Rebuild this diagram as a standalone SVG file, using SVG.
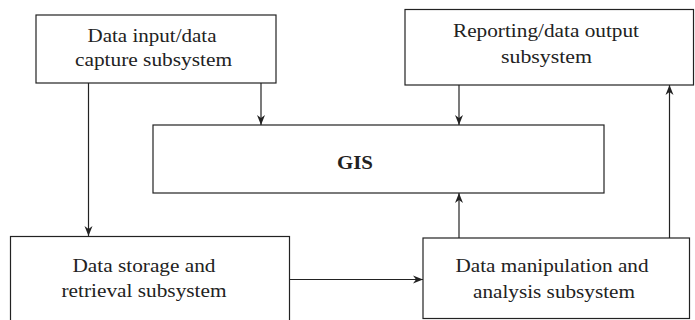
<svg xmlns="http://www.w3.org/2000/svg" width="695" height="320" viewBox="0 0 695 320">
  <style>
    .box { fill: #ffffff; stroke: #222222; stroke-width: 1.2; }
    .lbl { font-size: 18px; fill: #222222; text-anchor: middle; }
    .bold { font-weight: bold; font-size: 18.5px; }
    .conn { fill: none; stroke: #222222; stroke-width: 1.2; marker-end: url(#arrow); }
  </style>
  <defs>
    <marker id="arrow" viewBox="0 0 10 10" refX="10" refY="5" markerWidth="10" markerHeight="10" markerUnits="userSpaceOnUse" orient="auto">
      <path d="M0,1 L10,5 L0,9 L3,5 Z" fill="#222222"/>
    </marker>
  </defs>
  <rect width="695" height="320" fill="#ffffff"/>

  <g font-family="'Liberation Serif', 'Times New Roman', serif">
  <g id="input">
    <rect class="box" x="36" y="15" width="240" height="68"/>
    <text class="lbl" x="152" y="42" textLength="129" lengthAdjust="spacingAndGlyphs">Data input/data</text>
    <text class="lbl" x="153.5" y="66" textLength="157" lengthAdjust="spacingAndGlyphs">capture subsystem</text>
  </g>

  <g id="reporting">
    <rect class="box" x="405" y="9.5" width="288.5" height="75.5"/>
    <text class="lbl" x="546" y="37" textLength="186" lengthAdjust="spacingAndGlyphs">Reporting/data output</text>
    <text class="lbl" x="546.5" y="63" textLength="91" lengthAdjust="spacingAndGlyphs">subsystem</text>
  </g>

  <g id="gis">
    <rect class="box" x="153" y="125" width="451" height="68"/>
    <text class="lbl bold" x="355" y="169" textLength="36" lengthAdjust="spacingAndGlyphs">GIS</text>
  </g>

  <g id="storage">
    <rect class="box" x="10.5" y="236.5" width="279" height="95"/>
    <text class="lbl" x="144" y="272" textLength="143" lengthAdjust="spacingAndGlyphs">Data storage and</text>
    <text class="lbl" x="144" y="297" textLength="165" lengthAdjust="spacingAndGlyphs">retrieval subsystem</text>
  </g>

  <g id="manipulation">
    <rect class="box" x="423" y="238" width="266.5" height="80.5"/>
    <text class="lbl" x="552" y="272" textLength="193" lengthAdjust="spacingAndGlyphs">Data manipulation and</text>
    <text class="lbl" x="554" y="298" textLength="162" lengthAdjust="spacingAndGlyphs">analysis subsystem</text>
  </g>
  </g>

  <g id="connectors">
    <path class="conn" d="M88.5,83 L88.5,236"/>
    <path class="conn" d="M261,83 L261,125"/>
    <path class="conn" d="M459,85 L459,125"/>
    <path class="conn" d="M459,238 L459,193"/>
    <path class="conn" d="M669.5,238 L669.5,85"/>
    <path class="conn" d="M289.5,279.5 L423,279.5"/>
  </g>
</svg>
